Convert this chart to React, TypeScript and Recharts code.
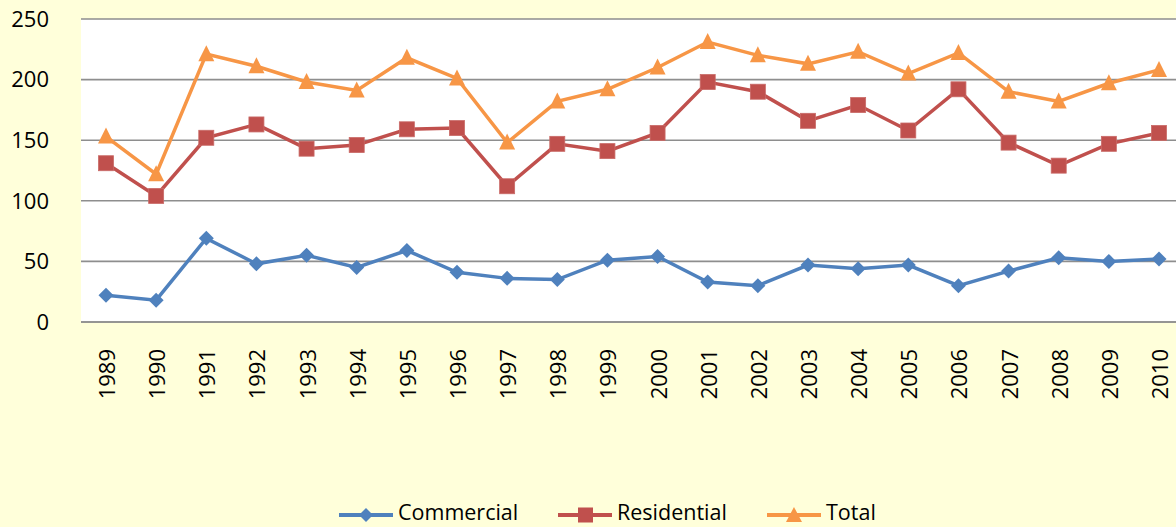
import React from 'react';
import { LineChart, Line, XAxis, YAxis, CartesianGrid, Legend } from 'recharts';

const years = ['1989','1990','1991','1992','1993','1994','1995','1996','1997','1998','1999','2000','2001','2002','2003','2004','2005','2006','2007','2008','2009','2010'];
const commercial = [22,18,69,48,55,45,59,41,36,35,51,54,33,30,47,44,47,30,42,53,50,52];
const residential = [131,104,152,163,143,146,159,160,112,147,141,156,198,190,166,179,158,192,148,129,147,156];
const total = [153,122,221,211,198,191,218,201,148,182,192,210,231,220,213,223,205,222,190,182,197,208];
const yTicks = [0, 50, 100, 150, 200, 250];

const data = years.map((y, i) => ({ year: y, Commercial: commercial[i], Residential: residential[i], Total: total[i] }));

const BLUE = '#4F81BD';
const RED = '#C0504D';
const ORANGE = '#F79646';
const BG = '#FFFFDA';
const FONT = '"Open Sans", sans-serif';

const Diamond = (props: any) => {
  const { cx, cy } = props;
  if (cx == null || cy == null) return null;
  const r = 7.5;
  return <path d={`M${cx},${cy - r}L${cx + r},${cy}L${cx},${cy + r}L${cx - r},${cy}Z`} fill={BLUE} />;
};
const Square = (props: any) => {
  const { cx, cy } = props;
  if (cx == null || cy == null) return null;
  const r = 7.5;
  return <rect x={cx - r} y={cy - r} width={2 * r} height={2 * r} fill={RED} stroke="#c96a67" strokeWidth={0.8} />;
};
const Triangle = (props: any) => {
  const { cx, cy } = props;
  if (cx == null || cy == null) return null;
  const r = 8;
  return <path d={`M${cx},${cy - r - 1}L${cx + r},${cy + r - 1}L${cx - r},${cy + r - 1}Z`} fill={ORANGE} />;
};

const XTick = (props: any) => {
  const { x, y, payload } = props;
  return (
    <g transform={`translate(${x},${y + 19}) rotate(-90)`}>
      <text x={0} y={0} textAnchor="end" dominantBaseline="central" fill="#000" fontSize={22} fontFamily={FONT}>
        {payload.value}
      </text>
    </g>
  );
};

const legendItems = [
  { name: 'Commercial', color: BLUE, left: 339, marker: 'diamond' },
  { name: 'Residential', color: RED, left: 558, marker: 'square' },
  { name: 'Total', color: ORANGE, left: 767, marker: 'triangle' },
];

const LegendContent = () => (
  <div style={{ position: 'relative', width: 1176, height: 22 }}>
    {legendItems.map((it) => (
      <div key={it.name} style={{ position: 'absolute', left: it.left, top: 0, height: 22, display: 'flex', alignItems: 'flex-start' }}>
        <svg width={54} height={24} style={{ display: 'block' }}>
          <line x1={0} y1={14} x2={54} y2={14} stroke={it.color} strokeWidth={4} />
          {it.marker === 'diamond' && <path d="M27,7L34,14L27,21L20,14Z" fill={it.color} />}
          {it.marker === 'square' && <rect x={20} y={6.5} width={15} height={15} fill={it.color} />}
          {it.marker === 'triangle' && <path d="M27,6L35,21L19,21Z" fill={it.color} />}
        </svg>
        <span style={{ marginLeft: 5, fontSize: 21.5, fontFamily: FONT, color: '#000', lineHeight: '22px', display: 'block', height: 22 }}>{it.name}</span>
      </div>
    ))}
  </div>
);

export default function App() {
  return (
    <div style={{ position: 'absolute', left: 0, top: 0, width: 1176, height: 527, overflow: 'hidden', background: BG }}>
      <LineChart width={1184} height={527} data={data} margin={{ top: 19, right: 0, left: 0, bottom: 0 }}>
        <CartesianGrid horizontal={true} vertical={false} fill="#FFFFFF" stroke="#8E8E8E" strokeWidth={1.6} />
        <XAxis
          dataKey="year"
          height={205}
          tick={<XTick />}
          tickLine={false}
          axisLine={{ stroke: '#8E8E8E', strokeWidth: 1.6 }}
          interval={0}
          padding={{ left: 25, right: 25 }}
        />
        <YAxis
          width={81}
          domain={[0, 250]}
          ticks={yTicks}
          tickLine={false}
          axisLine={false}
          tickSize={0}
          tickMargin={32}
          tick={{ fill: '#000', fontSize: 22, fontFamily: FONT }}
          interval={0}
        />
        <Legend
          layout="horizontal"
          verticalAlign="middle"
          align="center"
          wrapperStyle={{ top: 501, left: 0, width: 1176, height: 22 }}
          content={<LegendContent />}
        />
        <Line type="linear" dataKey="Commercial" stroke={BLUE} strokeWidth={3.5} dot={<Diamond />} activeDot={false} isAnimationActive={false} />
        <Line type="linear" dataKey="Residential" stroke={RED} strokeWidth={3.5} dot={<Square />} activeDot={false} isAnimationActive={false} />
        <Line type="linear" dataKey="Total" stroke={ORANGE} strokeWidth={3.5} dot={<Triangle />} activeDot={false} isAnimationActive={false} />
      </LineChart>
    </div>
  );
}
